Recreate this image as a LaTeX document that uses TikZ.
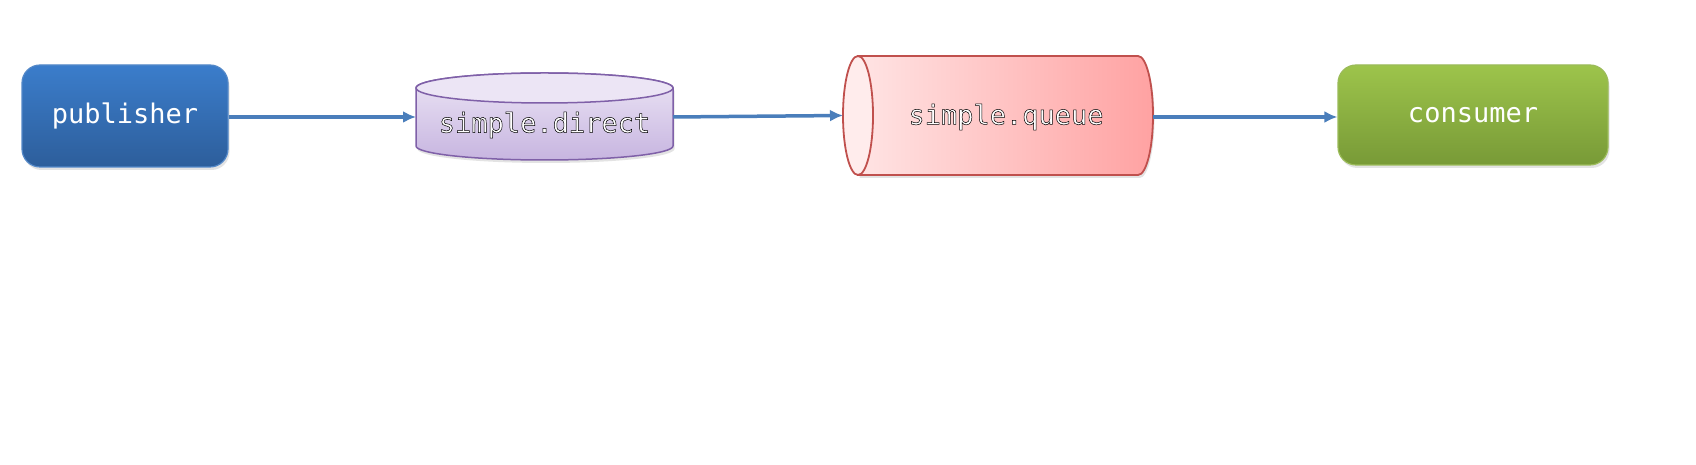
\documentclass[tikz,border=0pt]{standalone}
\usepackage{fontspec}
\newfontfamily\monofont{DejaVu Sans Mono}
\usetikzlibrary{arrows.meta,shadows}
\definecolor{arrowblue}{HTML}{4A7EBB}
\definecolor{pubtop}{HTML}{3B7DCB}
\definecolor{pubbot}{HTML}{2D5E9B}
\definecolor{pubedge}{HTML}{5388C8}
\definecolor{contop}{HTML}{9DC44B}
\definecolor{conbot}{HTML}{789A37}
\definecolor{conedge}{HTML}{9BBB59}
\definecolor{dirtop}{HTML}{ECE5F5}
\definecolor{dirbot}{HTML}{C7B5E0}
\definecolor{diredge}{HTML}{7F60A8}
\definecolor{qleft}{HTML}{FFE4E4}
\definecolor{qright}{HTML}{FFA2A2}
\definecolor{qedge}{HTML}{C0504D}
\definecolor{qcap}{HTML}{FFECEC}
\newcommand{\outlinedtext}[1]{\color{white}\special{pdf:literal direct 0 G 0.5 w 2 Tr}#1\special{pdf:literal direct 0 Tr}}
\tikzset{
  roundbox/.style={rounded corners=18pt, line width=1.2pt, inner sep=0pt,
    drop shadow={opacity=0.22, shadow xshift=1.5pt, shadow yshift=-3pt},
    font=\monofont\fontsize{27}{30}\selectfont, text=white},
  anchorbox/.style={inner sep=0pt, outer sep=0pt},
  flow/.style={draw=arrowblue, line width=3.5pt, -{Latex[length=13pt,width=12pt]}},
  lbl/.style={font=\monofont\fontsize{27}{30}\selectfont, inner sep=0pt},
}
\begin{document}
\begin{tikzpicture}[x=1pt,y=1pt]
\fill[white] (0,0) rectangle (1696,465);
\useasboundingbox (0,0) rectangle (1696,465);

% publisher
\node[roundbox, draw=pubedge, top color=pubtop, bottom color=pubbot,
  minimum width=206pt, minimum height=102pt] (pub) at (125,349) {publisher};

% consumer
\node[roundbox, draw=conedge, top color=contop, bottom color=conbot,
  minimum width=270pt, minimum height=100pt] (con) at (1473,350) {consumer};

% simple.direct cylinder
\path[draw=diredge, line width=1.5pt, top color=dirtop, bottom color=dirbot,
  drop shadow={opacity=0.22, shadow xshift=1.5pt, shadow yshift=-3pt}]
  (416,377) -- (416,319) arc[start angle=180, end angle=360, x radius=128.5, y radius=14]
  -- (673,377) arc[start angle=0, end angle=180, x radius=128.5, y radius=15] -- cycle;
\draw[diredge, line width=1.5pt, fill=dirtop] (544.5,377) ellipse[x radius=128.5, y radius=15];
\node[anchorbox, minimum width=257pt, minimum height=90pt] (dir) at (544.5,348) {};
\node[lbl] (dirtext) at (544.5,340) {\outlinedtext{simple.direct}};

% simple.queue cylinder
\path[draw=qedge, line width=1.8pt, left color=qleft, right color=qright,
  drop shadow={opacity=0.22, shadow xshift=1.5pt, shadow yshift=-3pt}]
  (858,409) -- (1138,409) arc[start angle=90, end angle=-90, x radius=15, y radius=59.5]
  -- (858,290) -- cycle;
\draw[qedge, line width=1.8pt, fill=qcap] (858,349.5) ellipse[x radius=15, y radius=59.5];
\node[anchorbox, minimum width=310pt, minimum height=119pt] (queue) at (998,349.5) {};
\node[lbl] (queuetext) at (1006,348) {\outlinedtext{simple.queue}};

% connectors
\draw[flow] (pub.east |- 0,348) -- (dir.west);
\draw[flow] (dir.east) -- (queue.west);
\draw[flow] (queue.east |- 0,348) -- (con.west |- 0,348);
\end{tikzpicture}
\end{document}
